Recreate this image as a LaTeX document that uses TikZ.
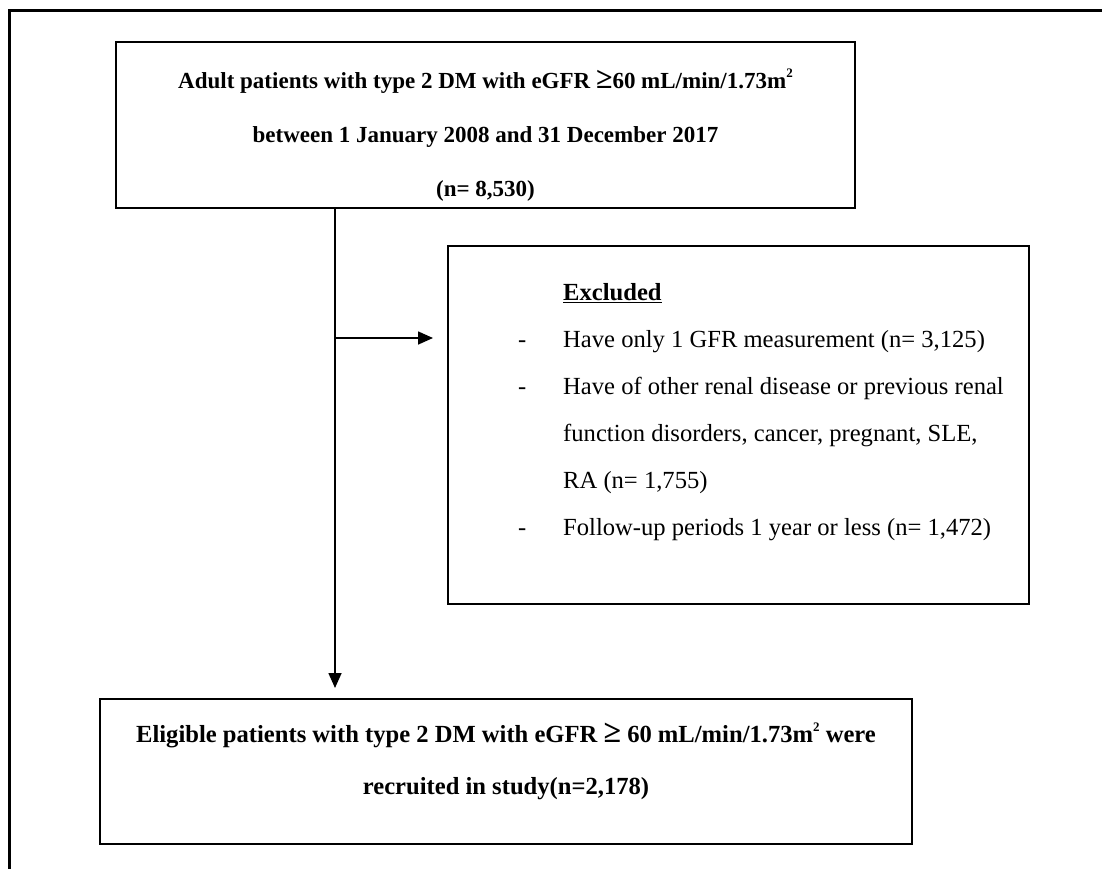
\documentclass[tikz,border=0pt]{standalone}
\usepackage{fontspec}
\setmainfont{Liberation Serif}
\usetikzlibrary{arrows.meta}
\usetikzlibrary{positioning}
\newcommand{\geqbig}[1]{{\fontsize{#1}{#1}\selectfont ≥}}
\newcommand{\sqtwo}{\raisebox{11pt}{\fontsize{13}{13}\selectfont 2}}
\tikzset{
	stepbox/.style={rectangle, draw, line width=2pt, align=center, inner sep=0pt},
	boldtext/.style 2 args={font=\fontsize{#1}{#2}\selectfont\bfseries},
	listtext/.style={align=left, inner sep=0pt, font=\fontsize{24.6}{47}\selectfont},
	arrow/.style={draw, line width=1.6pt, -{Triangle[length=15pt,width=13pt]}}
}

\begin{document}
\begin{tikzpicture}[x=1pt, y=-1pt]
\useasboundingbox (0,0) rectangle (1102,868);
\draw[line width=3pt] (9,900) -- (9,10) -- (1130,10);

\node[stepbox, boldtext={23}{54}, minimum width=739pt, minimum height=166pt] (cohort) at (485.5,125) {\rule{0pt}{39pt}Adult patients with type 2 DM with eGFR \geqbig{30}60 mL/min/1.73m\sqtwo\\
	between 1 January 2008 and 31 December 2017\\
	(n= 8,530)};

\node[stepbox, anchor=north west, minimum width=581pt, minimum height=358pt] (excluded) at (447,245) {};

\node[listtext, anchor=north west] (exclist) at (518,283) {\hspace*{45pt}\underline{\textbf{Excluded}}\\
	\makebox[45pt][l]{-}Have only 1 GFR measurement (n= 3,125)\\
	\makebox[45pt][l]{-}Have of other renal disease or previous renal\\
	\hspace*{45pt}function disorders, cancer, pregnant, SLE,\\
	\hspace*{45pt}RA (n= 1,755)\\
	\makebox[45pt][l]{-}Follow-up periods 1 year or less (n= 1,472)};

\node[stepbox, boldtext={24.6}{52}, minimum width=812pt, minimum height=145pt, below=489pt of cohort, xshift=20.5pt] (eligible) {Eligible patients with type 2 DM with eGFR \geqbig{32}{} 60 mL/min/1.73m\sqtwo{} were\\
	recruited in study(n=2,178)\rule[-25pt]{0pt}{25pt}};

\coordinate (split) at (335,338);

\draw [arrow, shorten >=10pt] (cohort.south -| split) -- (eligible.north -| split);
\draw [arrow, shorten >=14pt] (split) -- (excluded.west |- split);

\end{tikzpicture}
\end{document}
